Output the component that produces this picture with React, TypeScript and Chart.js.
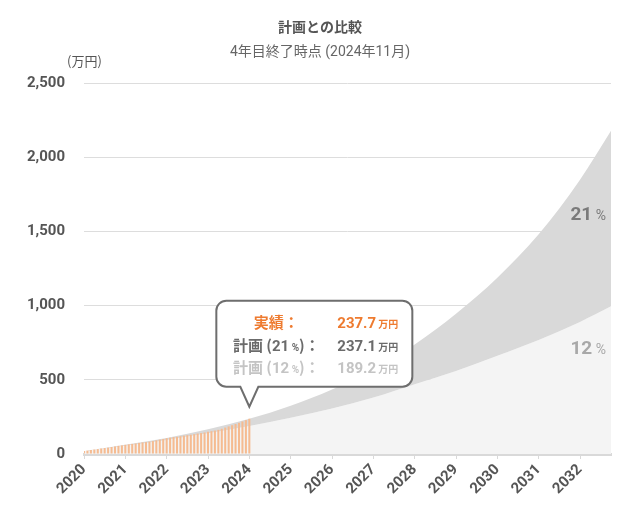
import React, { useEffect, useRef } from 'react';
import { Chart, registerables } from 'chart.js';

Chart.register(...registerables);

// ---- data ----
const TITLE = '計画との比較';
const SUBTITLE = '4年目終了時点 (2024年11月)';
const UNIT = '(万円)';
const YEAR_LABELS = ['2020', '2021', '2022', '2023', '2024', '2025', '2026', '2027', '2028', '2029', '2030', '2031', '2032'];
const MONTHS_PER_YEAR = 12;
const LAST_MONTH = 153;

// monthly actual results (万円), Jan 2020 .. Jan 2024
const ACTUAL = [
  20, 23, 27, 30, 33, 37, 40, 43, 47, 51, 55, 58,
  62, 65, 68, 71, 75, 78, 80, 83, 87, 92, 97, 101,
  106, 110, 114, 116, 120, 124, 127, 130, 134, 138, 141, 145,
  150, 154, 158, 163, 170, 178, 186, 194, 202, 210, 219, 228,
  237.7,
];

// plan curves read at each year tick (month index)
const PLAN_MONTHS = [0, 12, 24, 36, 48, 60, 72, 84, 96, 108, 120, 132, 144, 153];
const PLAN_21 = [20, 62, 108, 166, 237.1, 325, 435, 570, 738, 945, 1188, 1480, 1848, 2178];
const PLAN_12 = [20, 55, 95, 139, 189.2, 245, 307, 380, 470, 560, 662, 768, 890, 995];
const RATES = [21, 12];

const Y_MIN = 0;
const Y_MAX = 2500;
const Y_STEP = 500;

const NUM_FONT = "Roboto, 'Noto Sans CJK JP', sans-serif";
const JP_FONT = "'Noto Sans CJK JP', Roboto, sans-serif";

type Seg = { t: string; f: string };

function drawSegs(ctx: CanvasRenderingContext2D, segs: Seg[], x: number, y: number, align: 'center' | 'right' | 'left') {
  let w = 0;
  for (const s of segs) {
    ctx.font = s.f;
    w += ctx.measureText(s.t).width;
  }
  let cx = align === 'center' ? x - w / 2 : align === 'right' ? x - w : x;
  ctx.textAlign = 'left';
  ctx.textBaseline = 'alphabetic';
  for (const s of segs) {
    ctx.font = s.f;
    ctx.fillText(s.t, cx, y);
    cx += ctx.measureText(s.t).width;
  }
}

const overlayPlugin = {
  id: 'overlay',
  afterDraw(chart: any) {
    const ctx: CanvasRenderingContext2D = chart.ctx;
    const area = chart.chartArea;
    ctx.save();

    // titles
    ctx.textAlign = 'center';
    ctx.textBaseline = 'middle';
    ctx.fillStyle = '#555';
    ctx.font = `bold 14px ${JP_FONT}`;
    ctx.fillText(TITLE, chart.width / 2 + 2, 19);
    ctx.fillStyle = '#666';
    ctx.font = `14px ${NUM_FONT}`;
    ctx.fillText(SUBTITLE, chart.width / 2 + 2, 44);

    // unit
    ctx.textAlign = 'left';
    ctx.fillStyle = '#555';
    ctx.font = `13px ${JP_FONT}`;
    ctx.fillText(UNIT, area.left - 17, area.top - 22);

    // rate labels at right
    const rateColors = ['#7a7a7a', '#a8a8a8'];
    const rateFrac = [0.35, 0.711];
    RATES.forEach((r, i) => {
      ctx.fillStyle = rateColors[i];
      const y = area.top + (area.bottom - area.top) * rateFrac[i] + 7;
      drawSegs(ctx, [
        { t: String(r), f: `bold 19px ${NUM_FONT}` },
        { t: ' %', f: `14px ${NUM_FONT}` },
      ], area.right - 5, y, 'right');
    });

    // callout tooltip anchored to the last actual bar
    const meta = chart.getDatasetMeta(0);
    const idx = ACTUAL.length - 1;
    const bar = meta.data[idx];
    if (bar) {
      const ax = bar.x;
      const ay = bar.y;
      const tipY = ay - 12;
      const bottom = tipY - 20;
      const top = bottom - 86;
      const left = ax - 33;
      const right = left + 196;
      const r = 10;
      ctx.beginPath();
      ctx.moveTo(left + r, top);
      ctx.lineTo(right - r, top);
      ctx.arcTo(right, top, right, top + r, r);
      ctx.lineTo(right, bottom - r);
      ctx.arcTo(right, bottom, right - r, bottom, r);
      ctx.lineTo(ax + 9, bottom);
      ctx.lineTo(ax, tipY);
      ctx.lineTo(ax - 9, bottom);
      ctx.lineTo(left + r, bottom);
      ctx.arcTo(left, bottom, left, bottom - r, r);
      ctx.lineTo(left, top + r);
      ctx.arcTo(left, top, left + r, top, r);
      ctx.closePath();
      ctx.fillStyle = '#ffffff';
      ctx.fill();
      ctx.lineWidth = 2;
      ctx.strokeStyle = '#6e6e6e';
      ctx.stroke();

      const planIdx = PLAN_MONTHS.indexOf(idx);
      const rows = [
        { color: '#ee7b30', label: [{ t: '実績：', f: `bold 15px ${JP_FONT}` }], value: ACTUAL[idx] },
        {
          color: '#6b6b6b',
          label: [
            { t: '計画 (', f: `bold 15px ${JP_FONT}` },
            { t: String(RATES[0]), f: `bold 15px ${NUM_FONT}` },
            { t: ' %', f: `bold 10px ${NUM_FONT}` },
            { t: ')：', f: `bold 15px ${JP_FONT}` },
          ],
          value: PLAN_21[planIdx],
        },
        {
          color: '#c4c4c4',
          label: [
            { t: '計画 (', f: `bold 15px ${JP_FONT}` },
            { t: String(RATES[1]), f: `bold 15px ${NUM_FONT}` },
            { t: ' %', f: `bold 10px ${NUM_FONT}` },
            { t: ')：', f: `bold 15px ${JP_FONT}` },
          ],
          value: PLAN_12[planIdx],
        },
      ];
      rows.forEach((row, i) => {
        const by = top + 22 + i * 22.5 + 5.5;
        ctx.fillStyle = row.color;
        drawSegs(ctx, row.label, left + 60, by, 'center');
        drawSegs(ctx, [
          { t: row.value.toFixed(1), f: `bold 15px ${NUM_FONT}` },
          { t: ' 万円', f: `bold 10px ${JP_FONT}` },
        ], left + 182, by, 'right');
      });
    }

    ctx.restore();
  },
};

export default function App() {
  const canvasRef = useRef<HTMLCanvasElement | null>(null);

  useEffect(() => {
    if (!canvasRef.current) return;
    const barData = ACTUAL.map((v, i) => ({ x: i, y: v }));
    const plan21 = PLAN_MONTHS.map((m, i) => ({ x: m, y: PLAN_21[i] }));
    const plan12 = PLAN_MONTHS.map((m, i) => ({ x: m, y: PLAN_12[i] }));

    const chart = new Chart(canvasRef.current, {
      type: 'bar',
      data: {
        datasets: [
          {
            type: 'bar',
            label: '実績',
            data: barData as any,
            backgroundColor: '#f5bb91',
            barPercentage: 0.6,
            categoryPercentage: 1.0,
            order: 0,
          },
          {
            type: 'line',
            label: '計画 (21%)',
            data: plan21 as any,
            borderWidth: 0,
            borderColor: 'transparent',
            pointRadius: 0,
            cubicInterpolationMode: 'monotone',
            fill: 2,
            backgroundColor: '#d9d9d9',
            order: 1,
          },
          {
            type: 'line',
            label: '計画 (12%)',
            data: plan12 as any,
            borderWidth: 0,
            borderColor: 'transparent',
            pointRadius: 0,
            cubicInterpolationMode: 'monotone',
            fill: 'origin',
            backgroundColor: '#f4f4f4',
            order: 2,
          },
        ],
      },
      options: {
        animation: false,
        responsive: true,
        maintainAspectRatio: false,
        layout: { padding: { top: 75, right: 17, bottom: 0, left: 0 } },
        plugins: {
          legend: { display: false },
          tooltip: { enabled: false },
          title: { display: false },
        },
        scales: {
          x: {
            type: 'linear',
            min: 0,
            max: LAST_MONTH,
            offset: false,
            afterFit: (scale: any) => { scale.height = 67; },
            grid: {
              display: true,
              drawOnChartArea: false,
              drawTicks: true,
              tickLength: 5,
              color: '#d9d9d9',
              offset: false,
            },
            border: { display: true, color: '#d9d9d9', width: 3 },
            ticks: {
              stepSize: MONTHS_PER_YEAR,
              includeBounds: false,
              autoSkip: false,
              minRotation: 45,
              maxRotation: 45,
              padding: 2,
              color: '#555',
              font: { family: NUM_FONT, size: 15, weight: 'bold' },
              callback: (v: any) => {
                const n = Number(v);
                return n % MONTHS_PER_YEAR === 0 ? YEAR_LABELS[n / MONTHS_PER_YEAR] : '';
              },
            },
          },
          y: {
            min: Y_MIN,
            max: Y_MAX,
            afterFit: (scale: any) => { scale.width = 76; },
            grid: { color: '#dddddd', drawTicks: false },
            border: { display: false },
            ticks: {
              stepSize: Y_STEP,
              padding: 19,
              color: '#555',
              font: { family: NUM_FONT, size: 15, weight: 'bold' },
              callback: (v: any) => Number(v).toLocaleString('en-US'),
            },
          },
        },
      } as any,
      plugins: [overlayPlugin],
    });
    return () => chart.destroy();
  }, []);

  return (
    <div style={{ position: 'relative', width: 620, height: 513 }}>
      <canvas ref={canvasRef} />
    </div>
  );
}
